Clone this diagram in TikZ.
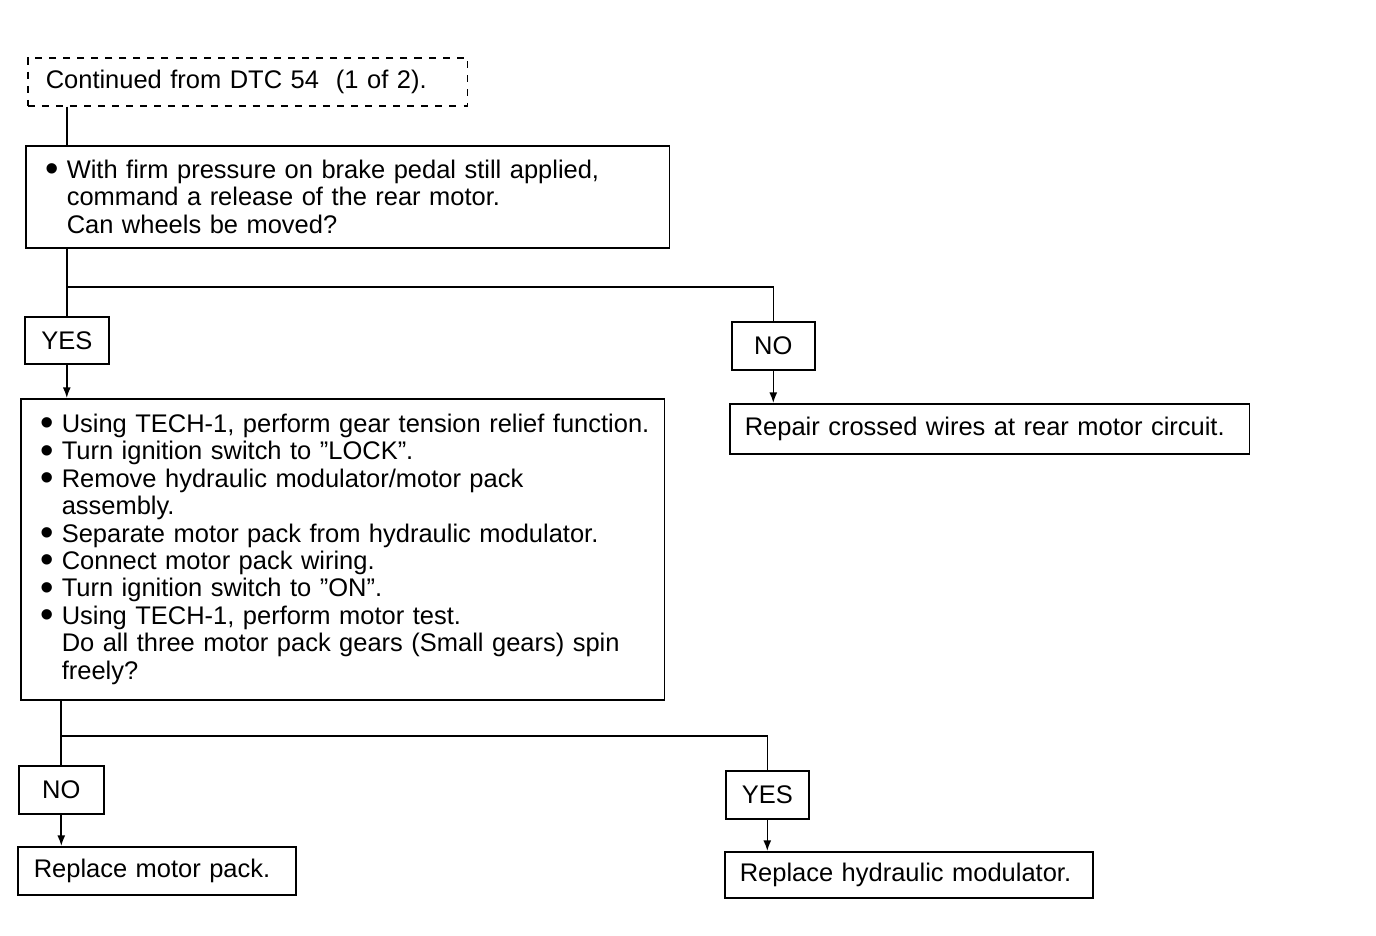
\documentclass[tikz,border=0pt]{standalone}
\usepackage{fontspec}
\setmainfont{Liberation Sans}
\usetikzlibrary{arrows.meta}

\newcommand{\blt}{\makebox[0.42cm][l]{\raisebox{-0.25ex}{\scalebox{1.5}{\textbullet}}}}
\newcommand{\ind}{\hspace*{0.42cm}}

\tikzset{
  box/.style={draw, line width=0.9pt, anchor=north west, inner xsep=0.4cm,
    inner ysep=0pt, align=left, font=\fontsize{14.5}{15.6}\selectfont},
  tag/.style={draw, line width=0.9pt, anchor=north west, inner sep=0pt,
    align=center, font=\fontsize{14.5}{15.6}\selectfont},
  flow/.style={line width=0.9pt},
  arr/.style={flow, -{Latex[length=6pt,width=4.5pt]}},
}

\begin{document}
\begin{tikzpicture}[x=0.02cm,y=-0.02cm]

\useasboundingbox (0,0) rectangle (1376,936);

% Start
\node[box, dash pattern=on 4pt off 4pt, inner xsep=0.36cm, text width=8.08cm,
  minimum height=0.96cm] (start) at (27,57) {\mbox{Continued from DTC 54\ \ (1 of 2).}};

% First check
\node[box, text width=12.08cm, minimum height=2.04cm] (q1) at (25,145)
  {\mbox{\blt With firm pressure on brake pedal still applied,}\\
   \ind command a release of the rear motor.\\
   \ind Can wheels be moved?};

% Answers to first check
\node[tag, minimum width=1.68cm, minimum height=0.94cm] (yes1) at (24,316) {YES};
\node[tag, minimum width=1.66cm, minimum height=0.96cm] (no1) at (731,321) {NO};

\node[box, inner xsep=0.3cm, text width=9.8cm, minimum height=1.0cm] (fix1)
  at (729,403) {\mbox{Repair crossed wires at rear motor circuit.}};

% Second check
\node[box, text width=12.08cm, minimum height=6.02cm] (q2) at (20,398)
  {\mbox{\blt Using TECH-1, perform gear tension relief function.}\\
   \blt Turn ignition switch to ''LOCK''.\\
   \blt Remove hydraulic modulator/motor pack\\
   \ind assembly.\\
   \mbox{\blt Separate motor pack from hydraulic modulator.}\\
   \blt Connect motor pack wiring.\\
   \blt Turn ignition switch to ''ON''.\\
   \blt Using TECH-1, perform motor test.\\
   \mbox{\ind Do all three motor pack gears (Small gears) spin}\\
   \ind freely?};

% Answers to second check
\node[tag, minimum width=1.7cm, minimum height=0.96cm] (no2) at (18,765) {NO};
\node[tag, minimum width=1.66cm, minimum height=0.96cm] (yes2) at (725,770) {YES};

\node[box, inner xsep=0.32cm, text width=4.92cm, minimum height=0.96cm] (fix2)
  at (17,846) {\mbox{Replace motor pack.}};
\node[box, inner xsep=0.3cm, text width=6.76cm, minimum height=0.92cm] (fix3)
  at (724,851) {\mbox{Replace hydraulic modulator.}};

% Connectors
\coordinate (split1) at (64,287);
\coordinate (split2) at (59,736);

\draw[flow] (yes1.north |- start.south) -- (yes1.north |- q1.north);
\draw[flow] (yes1.north |- q1.south) -- (yes1.north);
\draw[flow] (yes1.north |- split1) -| (no1.north);
\draw[arr] (yes1.south) -- (yes1.south |- q2.north);
\draw[arr] (no1.south) -- (no1.south |- fix1.north);

\draw[flow] (no2.north |- q2.south) -- (no2.north);
\draw[flow] (no2.north |- split2) -| (yes2.north);
\draw[arr] (no2.south) -- (no2.south |- fix2.north);
\draw[arr] (yes2.south) -- (yes2.south |- fix3.north);

\end{tikzpicture}
\end{document}
